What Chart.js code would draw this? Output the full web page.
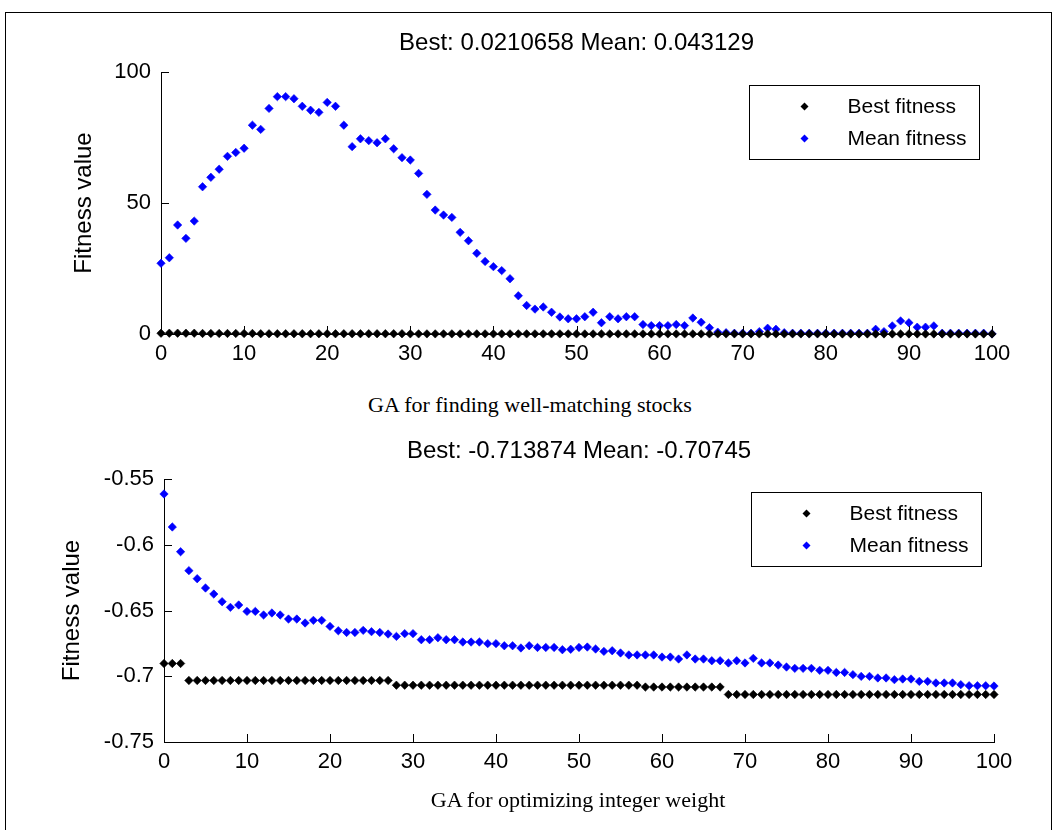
<!DOCTYPE html>
<html>
<head>
<meta charset="utf-8">
<script src="https://cdn.jsdelivr.net/npm/chart.js@4.4.1/dist/chart.umd.min.js"></script>
<style>
  html, body { margin: 0; padding: 0; background: #fff; width: 1056px; height: 830px; overflow: hidden; }
  #frame { position: absolute; left: 5px; top: 12px; width: 1047px; height: 840px; border: 1.5px solid #000; box-sizing: border-box; }
  canvas { position: absolute; left: 0; }
  .caption { position: absolute; font-family: "Liberation Serif", "Times New Roman", serif; color: #000; white-space: nowrap; transform: translate(-50%, -50%); }
</style>
</head>
<body>
<div id="frame"></div>
<canvas id="c1" width="1056" height="390" style="top:0px;width:1056px;height:390px"></canvas>
<canvas id="c2" width="1056" height="370" style="top:420px;width:1056px;height:370px"></canvas>
<div class="caption" id="cap1" style="left:530px;top:405px;font-size:22px"></div>
<div class="caption" id="cap2" style="left:578px;top:800px;font-size:22px"></div>
<script>
// ---------------- DATA ----------------
const generations = [0,1,2,3,4,5,6,7,8,9,10,11,12,13,14,15,16,17,18,19,20,21,22,23,24,25,26,27,28,29,30,31,32,33,34,35,36,37,38,39,40,41,42,43,44,45,46,47,48,49,50,51,52,53,54,55,56,57,58,59,60,61,62,63,64,65,66,67,68,69,70,71,72,73,74,75,76,77,78,79,80,81,82,83,84,85,86,87,88,89,90,91,92,93,94,95,96,97,98,99,100];
const xTickValues = [0,10,20,30,40,50,60,70,80,90,100];
const topYTicks = [0,50,100];
const bottomYTicks = [-0.75,-0.7,-0.65,-0.6,-0.55];
const seriesLabels = ['Best fitness','Mean fitness'];
const topTitle = 'Best: 0.0210658 Mean: 0.043129';
const bottomTitle = 'Best: -0.713874 Mean: -0.70745';
const topCaption = 'GA for finding well-matching stocks';
const bottomCaption = 'GA for optimizing integer weight';
const yAxisTitle = 'Fitness value';

const topBest = [0.3,0.3,0.3,0.3,0.3,0.2,0.2,0.2,0.2,0.2,0.2,0.2,0.1,0.1,0.1,0.1,0.1,0.1,0.1,0.1,0.1,0.1,0.1,0.1,0.1,0.1,0.1,0.1,0.1,0.1,0.05,0.05,0.05,0.05,0.05,0.05,0.05,0.05,0.05,0.05,0.05,0.05,0.05,0.05,0.05,0.05,0.05,0.05,0.05,0.05,0.03,0.03,0.03,0.03,0.03,0.03,0.03,0.03,0.03,0.03,0.03,0.03,0.03,0.03,0.03,0.03,0.03,0.03,0.03,0.03,0.03,0.03,0.03,0.03,0.03,0.03,0.03,0.03,0.03,0.03,0.025,0.025,0.025,0.025,0.025,0.025,0.025,0.025,0.025,0.025,0.025,0.025,0.025,0.025,0.025,0.022,0.022,0.022,0.021,0.021,0.0210658];
const topMean = [27.0,29.1,41.6,36.5,43.1,56.2,59.8,62.9,67.8,69.3,70.9,79.7,78.1,86.1,90.6,90.6,89.8,86.9,85.4,84.6,88.4,86.9,79.7,71.5,74.5,73.8,73.0,74.5,70.7,67.3,66.4,61.3,53.3,47.3,45.4,44.5,38.8,35.6,30.8,27.7,25.7,24.2,21.1,14.6,10.9,9.5,10.3,8.3,6.5,5.8,5.8,6.6,8.3,4.3,6.6,5.8,6.6,6.6,3.6,3.2,3.2,3.2,3.6,3.2,6.1,4.5,2.4,0.7,0.5,0.3,0.3,0.3,0.9,2.2,1.8,0.5,0.3,0.3,0.3,0.3,0.3,0.3,0.3,0.3,0.3,0.3,1.8,0.9,3.1,5.0,4.3,2.6,2.6,3.1,0.3,0.3,0.3,0.3,0.3,0.3,0.043129];
const bottomBest = [-0.6903,-0.6903,-0.6903,-0.7032,-0.7032,-0.7032,-0.7032,-0.7032,-0.7032,-0.7032,-0.7032,-0.7032,-0.7032,-0.7032,-0.7032,-0.7032,-0.7032,-0.7032,-0.7032,-0.7032,-0.7032,-0.7032,-0.7032,-0.7032,-0.7032,-0.7032,-0.7032,-0.7032,-0.7068,-0.7068,-0.7068,-0.7068,-0.7068,-0.7068,-0.7068,-0.7068,-0.7068,-0.7068,-0.7068,-0.7068,-0.7068,-0.7068,-0.7068,-0.7068,-0.7068,-0.7068,-0.7068,-0.7068,-0.7068,-0.7068,-0.7068,-0.7068,-0.7068,-0.7068,-0.7068,-0.7068,-0.7068,-0.7068,-0.7082,-0.7082,-0.7082,-0.7082,-0.7082,-0.7082,-0.7082,-0.7082,-0.7082,-0.7082,-0.713874,-0.713874,-0.713874,-0.713874,-0.713874,-0.713874,-0.713874,-0.713874,-0.713874,-0.713874,-0.713874,-0.713874,-0.713874,-0.713874,-0.713874,-0.713874,-0.713874,-0.713874,-0.713874,-0.713874,-0.713874,-0.713874,-0.713874,-0.713874,-0.713874,-0.713874,-0.713874,-0.713874,-0.713874,-0.713874,-0.713874,-0.713874,-0.713874];
const bottomMean = [-0.5614,-0.5865,-0.6053,-0.6197,-0.6258,-0.6329,-0.6375,-0.6433,-0.6476,-0.6458,-0.6507,-0.6507,-0.6534,-0.6519,-0.6534,-0.6565,-0.6565,-0.6595,-0.6575,-0.6575,-0.6621,-0.6654,-0.6667,-0.6667,-0.6651,-0.6661,-0.6667,-0.6679,-0.6697,-0.6676,-0.6676,-0.6722,-0.6722,-0.6707,-0.6722,-0.6722,-0.6740,-0.6740,-0.6740,-0.6752,-0.6752,-0.6768,-0.6768,-0.6785,-0.6768,-0.6781,-0.6781,-0.6781,-0.6798,-0.6795,-0.6781,-0.6778,-0.6793,-0.6811,-0.6806,-0.6823,-0.6838,-0.6838,-0.6838,-0.6838,-0.6854,-0.6854,-0.6869,-0.6838,-0.6869,-0.6869,-0.6882,-0.6882,-0.6899,-0.6882,-0.6899,-0.6864,-0.6899,-0.6899,-0.6915,-0.6930,-0.6940,-0.6940,-0.6940,-0.6955,-0.6955,-0.6971,-0.6971,-0.6988,-0.7001,-0.7001,-0.7013,-0.7013,-0.7026,-0.7021,-0.7021,-0.7039,-0.7039,-0.7051,-0.7051,-0.7051,-0.7064,-0.7072,-0.7072,-0.7072,-0.70745];

// ---------------- STYLE ----------------
const SANS = '"Liberation Sans", Arial, Helvetica, sans-serif';
const colors = ['#000000', '#0000ff'];

document.getElementById('cap1').textContent = topCaption;
document.getElementById('cap2').textContent = bottomCaption;

const matlabPlugin = {
  id: 'matlabAxes',
  afterDraw(chart, args, opts) {
    const ctx = chart.ctx;
    const ca = chart.chartArea;
    const xs = chart.scales.x, ys = chart.scales.y;
    ctx.save();
    // inward ticks
    ctx.strokeStyle = '#000';
    ctx.lineWidth = 1;
    ctx.beginPath();
    xs.ticks.forEach(t => {
      const px = Math.round(xs.getPixelForValue(t.value)) + 0.5;
      ctx.moveTo(px, ca.bottom);
      ctx.lineTo(px, ca.bottom - 8);
    });
    ys.ticks.forEach(t => {
      const py = Math.round(ys.getPixelForValue(t.value)) + 0.5;
      ctx.moveTo(ca.left, py);
      ctx.lineTo(ca.left + 8, py);
    });
    ctx.stroke();
    // title
    ctx.fillStyle = '#000';
    ctx.font = '24px ' + SANS;
    ctx.textAlign = 'center';
    ctx.textBaseline = 'middle';
    ctx.fillText(opts.title, (ca.left + ca.right) / 2, opts.titleY);
    // legend
    const w = 230, h = 74;
    const bx = Math.round(ca.right - 13 - w) + 0.5;
    const by = Math.round(ca.top + 13) + 0.5;
    ctx.fillStyle = '#fff';
    ctx.fillRect(bx, by, w, h);
    ctx.strokeStyle = '#000';
    ctx.lineWidth = 1;
    ctx.strokeRect(bx, by, w, h);
    ctx.font = '21px ' + SANS;
    ctx.textAlign = 'left';
    chart.data.datasets.forEach((ds, i) => {
      const cy = by + 21 + i * 32;
      const mx = bx + 55;
      ctx.fillStyle = ds.backgroundColor;
      ctx.beginPath();
      ctx.moveTo(mx, cy - 4);
      ctx.lineTo(mx + 4, cy);
      ctx.lineTo(mx, cy + 4);
      ctx.lineTo(mx - 4, cy);
      ctx.closePath();
      ctx.fill();
      ctx.fillStyle = '#000';
      ctx.fillText(ds.label, bx + 98, cy + 1);
    });
    ctx.restore();
  }
};

function makeChart(id, best, mean, yMin, yMax, yTicks, cfg) {
  const pts = (arr) => generations.map((g, i) => ({ x: g, y: arr[i] }));
  const dsBase = {
    showLine: false,
    pointStyle: 'rectRot',
    pointRadius: 4.2,
    pointHoverRadius: 4.2,
    pointBorderWidth: 0.6,
    clip: false
  };
  return new Chart(document.getElementById(id), {
    type: 'scatter',
    data: {
      datasets: [
        Object.assign({}, dsBase, { label: seriesLabels[0], data: pts(best), backgroundColor: colors[0], borderColor: colors[0] }),
        Object.assign({}, dsBase, { label: seriesLabels[1], data: pts(mean), backgroundColor: colors[1], borderColor: colors[1] })
      ]
    },
    options: {
      responsive: false,
      animation: false,
      events: [],
      layout: { padding: { left: 0, right: cfg.padRight, top: cfg.padTop, bottom: 0 } },
      plugins: {
        legend: { display: false },
        title: { display: false },
        tooltip: { enabled: false },
        matlabAxes: { title: cfg.title, titleY: cfg.titleY }
      },
      scales: {
        x: {
          type: 'linear',
          min: 0, max: 100,
          afterBuildTicks: (s) => { s.ticks = xTickValues.map(v => ({ value: v })); },
          afterFit: (s) => { s.height = cfg.xHeight; },
          grid: { display: true, drawOnChartArea: false, drawTicks: false },
          border: { display: true, color: '#000', width: 1 },
          ticks: { color: '#000', font: { family: SANS, size: 22 }, padding: 7, maxRotation: 0, autoSkip: false, callback: v => String(v) }
        },
        y: {
          type: 'linear',
          min: yMin, max: yMax,
          afterBuildTicks: (s) => { s.ticks = yTicks.map(v => ({ value: v })); },
          afterFit: (s) => { s.width = cfg.yWidth; },
          grid: { display: true, drawOnChartArea: false, drawTicks: false },
          border: { display: true, color: '#000', width: 1 },
          ticks: { color: '#000', font: { family: SANS, size: 22 }, padding: 10, autoSkip: false, callback: v => String(v) },
          title: { display: true, text: yAxisTitle, color: '#000', font: { family: SANS, size: 24 }, padding: { top: cfg.yTitlePad, bottom: 0 } }
        }
      }
    },
    plugins: [matlabPlugin]
  });
}

makeChart('c1', topBest, topMean, 0, 100, topYTicks, {
  padRight: 64, padTop: 72, xHeight: 390 - 334, yWidth: 161, yTitlePad: 70, title: topTitle, titleY: 43
});
makeChart('c2', bottomBest, bottomMean, -0.75, -0.55, bottomYTicks, {
  padRight: 62, padTop: 59, xHeight: 370 - 322, yWidth: 164, yTitlePad: 58, title: bottomTitle, titleY: 31
});
</script>
</body>
</html>
